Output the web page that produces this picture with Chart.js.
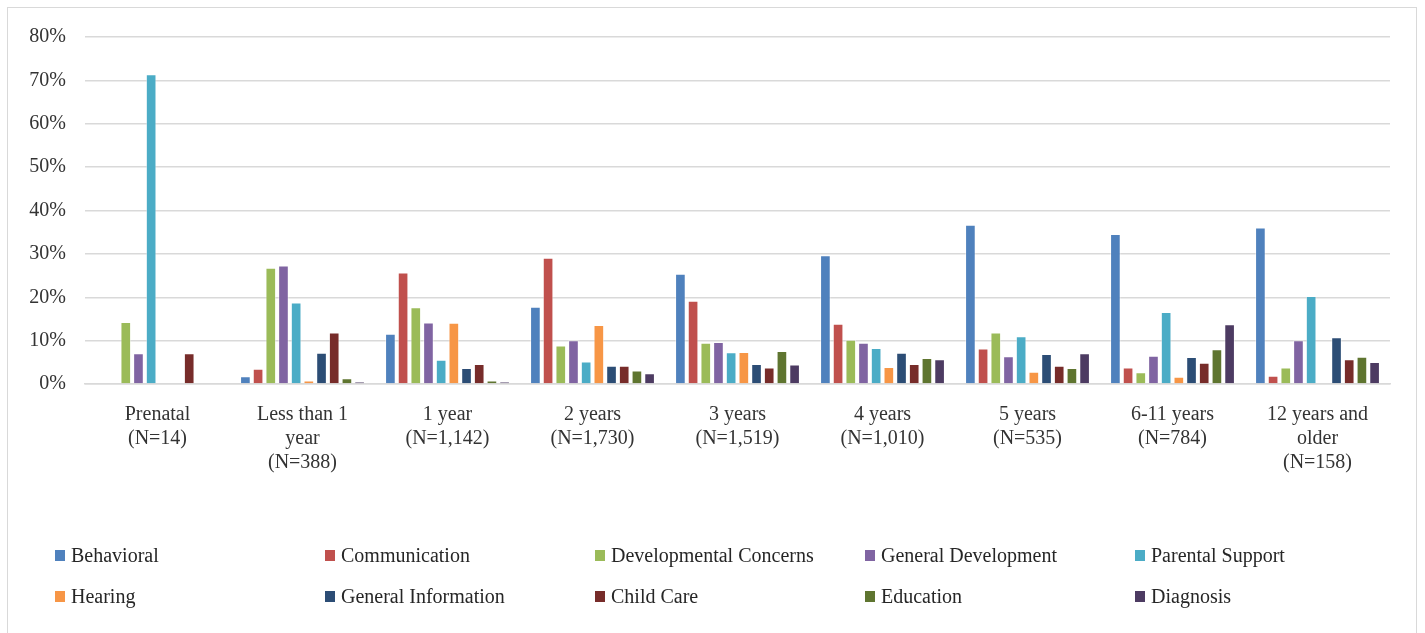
<!DOCTYPE html>
<html>
<head>
<meta charset="utf-8">
<script src="https://cdn.jsdelivr.net/npm/chart.js@4"></script>
<style>
  html, body { margin: 0; padding: 0; background: #fff; }
  #wrap { position: relative; width: 1425px; height: 633px; overflow: hidden; }
  #frame { position: absolute; left: 7px; top: 7px; width: 1410px; height: 640px; border: 1px solid #d9d9d9; box-sizing: border-box; }
  #chart { position: absolute; left: 0; top: 0; }
  #legend { position: absolute; left: 0; top: 0; width: 1425px; height: 633px; font-family: "Liberation Serif", serif; font-size: 20px; color: #262626; }
  .item { position: absolute; display: flex; align-items: center; white-space: nowrap; }
  .box { width: 10px; height: 11px; margin-right: 6px; }
</style>
</head>
<body>
<div id="wrap">
  <div id="frame"></div>
  <canvas id="chart" width="1425" height="633"></canvas>
  <div id="legend"></div>
</div>
<script>
// categories and series (percent of calls in each age group)
const categories = [
  ["Prenatal", "(N=14)"],
  ["Less than 1", "year", "(N=388)"],
  ["1 year", "(N=1,142)"],
  ["2 years", "(N=1,730)"],
  ["3 years", "(N=1,519)"],
  ["4 years", "(N=1,010)"],
  ["5 years", "(N=535)"],
  ["6-11 years", "(N=784)"],
  ["12 years and", "older", "(N=158)"]
];

const seriesNames = ["Behavioral", "Communication", "Developmental Concerns", "General Development",
  "Parental Support", "Hearing", "General Information", "Child Care", "Education", "Diagnosis"];

const behavioral    = [0, 1.8, 11.6, 17.8, 25.4, 29.7, 36.7, 34.6, 36.1];
const communication = [0, 3.5, 25.7, 29.1, 19.2, 13.9, 8.2, 3.8, 1.9];
const developmental = [14.3, 26.8, 17.7, 8.9, 9.5, 10.2, 11.9, 2.7, 3.8];
const generalDev    = [7.1, 27.3, 14.2, 10.1, 9.7, 9.5, 6.4, 6.5, 10.1];
const parental      = [71.4, 18.8, 5.6, 5.2, 7.3, 8.3, 11.0, 16.6, 20.3];
const hearing       = [0, 0.8, 14.1, 13.6, 7.4, 3.9, 2.8, 1.7, 0];
const generalInfo   = [0, 7.2, 3.7, 4.2, 4.6, 7.2, 6.9, 6.2, 10.8];
const childCare     = [7.1, 11.9, 4.6, 4.2, 3.8, 4.6, 4.2, 4.9, 5.7];
const education     = [0, 1.3, 0.8, 3.1, 7.6, 6.0, 3.7, 8.0, 6.3];
const diagnosis     = [0, 0.5, 0.5, 2.5, 4.5, 5.7, 7.1, 13.8, 5.1];

const yTicks = [0, 10, 20, 30, 40, 50, 60, 70, 80];

const seriesValues = [behavioral, communication, developmental, generalDev, parental,
  hearing, generalInfo, childCare, education, diagnosis];
const colors = ["#4F81BD", "#C0504D", "#9BBB59", "#8064A2", "#4BACC6",
  "#F79646", "#2C4D75", "#772C2A", "#5F7530", "#4D3B62"];

const FONT = "'Liberation Serif', serif";
const TEXT = "#333333";

const datasets = seriesNames.map((name, i) => ({
  label: name,
  data: seriesValues[i],
  backgroundColor: colors[i],
  borderColor: "rgba(255,255,255,0.45)",
  borderWidth: 1,
  borderSkipped: "bottom",
  categoryPercentage: 0.875,
  barPercentage: 0.84
}));

new Chart(document.getElementById("chart"), {
  type: "bar",
  data: { labels: categories, datasets },
  options: {
    responsive: false,
    animation: false,
    layout: { padding: { left: 0, right: 35, top: 37, bottom: 143 } },
    plugins: { legend: { display: false }, tooltip: { enabled: false } },
    scales: {
      x: {
        grid: { display: false },
        border: { color: "#d9d9d9", width: 1.5 },
        ticks: {
          color: TEXT,
          font: { family: FONT, size: 20 },
          padding: 11,
          maxRotation: 0,
          autoSkip: false
        },
        afterFit: (scale) => { scale.height = 106; }
      },
      y: {
        min: 0,
        max: 80,
        afterBuildTicks: (scale) => { scale.ticks = yTicks.map(v => ({ value: v })); },
        grid: { color: "#d9d9d9", lineWidth: 1.5, drawTicks: false },
        border: { display: false },
        ticks: {
          color: TEXT,
          font: { family: FONT, size: 20 },
          padding: 19,
          callback: (v) => v + "%"
        },
        afterFit: (scale) => { scale.width = 85; }
      }
    }
  }
});

// legend in five fixed columns, two rows
const legend = document.getElementById("legend");
seriesNames.forEach((name, i) => {
  const col = i % 5, row = Math.floor(i / 5);
  const el = document.createElement("div");
  el.className = "item";
  el.style.left = (55 + col * 270) + "px";
  el.style.top = (544 + row * 41) + "px";
  el.innerHTML = '<span class="box" style="background:' + colors[i] + '"></span>' + name;
  legend.appendChild(el);
});
</script>
</body>
</html>
